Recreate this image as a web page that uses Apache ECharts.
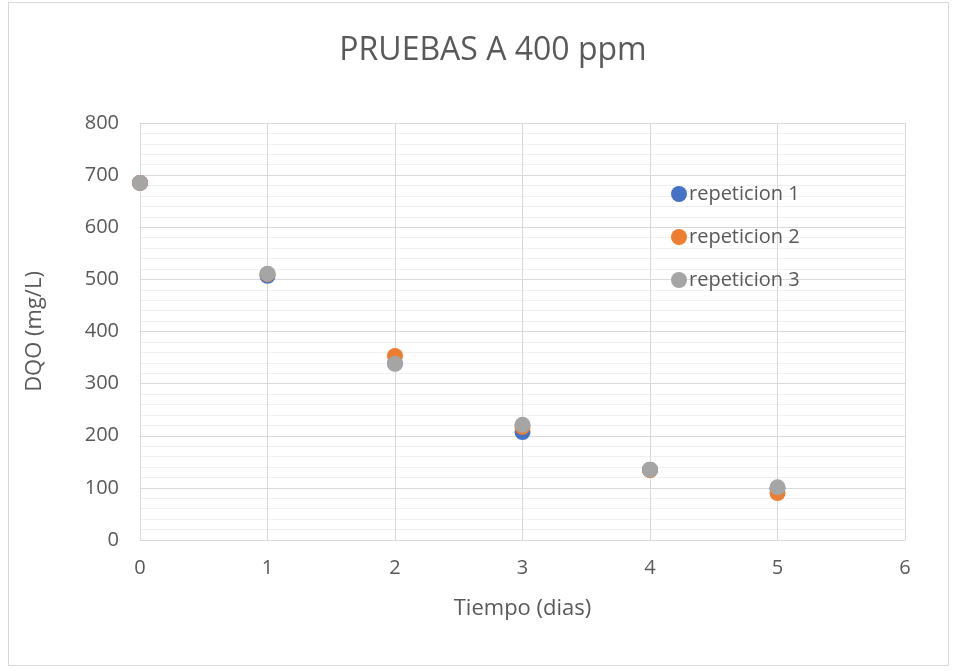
<!DOCTYPE html>
<html>
<head>
<meta charset="utf-8">
<script src="https://cdn.jsdelivr.net/npm/echarts@6/dist/echarts.min.js"></script>
<style>
  html, body { margin: 0; padding: 0; background: #fff; }
  #main { width: 956px; height: 671px; }
  #frame { position: absolute; left: 8px; top: 2px; width: 939px; height: 662px; border: 1px solid #d9d9d9; pointer-events: none; }
</style>
</head>
<body>
<div id="main"></div>
<div id="frame"></div>
<script>
// Days of the test
const dias = [0, 1, 2, 3, 4, 5];
// DQO (mg/L) for each repetition
const repeticion1 = [685, 507, 339, 207, 135, 99];
const repeticion2 = [685, 510, 353, 217, 134, 90];
const repeticion3 = [685, 511, 338, 221, 135, 101];
const xTicks = [0, 1, 2, 3, 4, 5, 6];
const yTicks = [0, 100, 200, 300, 400, 500, 600, 700, 800];

const fontFam = "'Open Sans', 'Liberation Sans', sans-serif";
const txt = "#595959";

let myChart = echarts.init(document.getElementById("main"));

const toPairs = (vals) => dias.map((d, i) => [d, vals[i]]);
const names = ["repeticion 1", "repeticion 2", "repeticion 3"];
const colors = ["#4472C4", "#ED7D31", "#A5A5A5"];
const seriesData = [repeticion1, repeticion2, repeticion3];

let options = {
  animation: false,
  textStyle: { fontFamily: fontFam },
  title: {
    text: "PRUEBAS A 400 ppm",
    left: 488,
    textAlign: "center",
    top: 30,
    textStyle: { fontFamily: fontFam, fontSize: 32, fontWeight: "normal", color: txt },
  },
  legend: {
    orient: "vertical",
    left: 666,
    top: 179,
    itemGap: 23,
    itemWidth: 16,
    itemHeight: 16,
    icon: "circle",
    textStyle: { fontFamily: fontFam, fontSize: 20, color: txt, padding: [0, 0, 0, -3] },
    data: names,
  },
  grid: { left: 140, right: 51, top: 123, bottom: 131 },
  xAxis: {
    type: "value",
    min: xTicks[0],
    max: xTicks[xTicks.length - 1],
    interval: 1,
    name: "Tiempo (dias)",
    nameLocation: "middle",
    nameGap: 58,
    nameTextStyle: { fontFamily: fontFam, fontSize: 22, color: txt },
    axisLine: { show: true, lineStyle: { color: "#d9d9d9" } },
    axisTick: { show: false },
    axisLabel: { fontFamily: fontFam, fontSize: 20, color: txt, margin: 18 },
    splitLine: { show: true, lineStyle: { color: "#d9d9d9", width: 1 } },
  },
  yAxis: {
    type: "value",
    min: yTicks[0],
    max: yTicks[yTicks.length - 1],
    interval: 100,
    name: "DQO (mg/L)",
    nameLocation: "middle",
    nameGap: 94,
    nameTextStyle: { fontFamily: fontFam, fontSize: 22, color: txt },
    axisLine: { show: true, lineStyle: { color: "#d9d9d9" } },
    axisTick: { show: false },
    axisLabel: { fontFamily: fontFam, fontSize: 20, color: txt, margin: 21 },
    splitLine: { show: true, lineStyle: { color: "#d9d9d9", width: 1 } },
    minorTick: { show: false, splitNumber: 5 },
    minorSplitLine: { show: true, lineStyle: { color: "#f0f0f0", width: 1 } },
  },
  series: names.map((n, i) => ({
    name: n,
    type: "scatter",
    symbol: "circle",
    symbolSize: 16,
    itemStyle: { color: colors[i], opacity: 1 },
    data: toPairs(seriesData[i]),
  })),
};
myChart.setOption(options);
</script>
</body>
</html>
